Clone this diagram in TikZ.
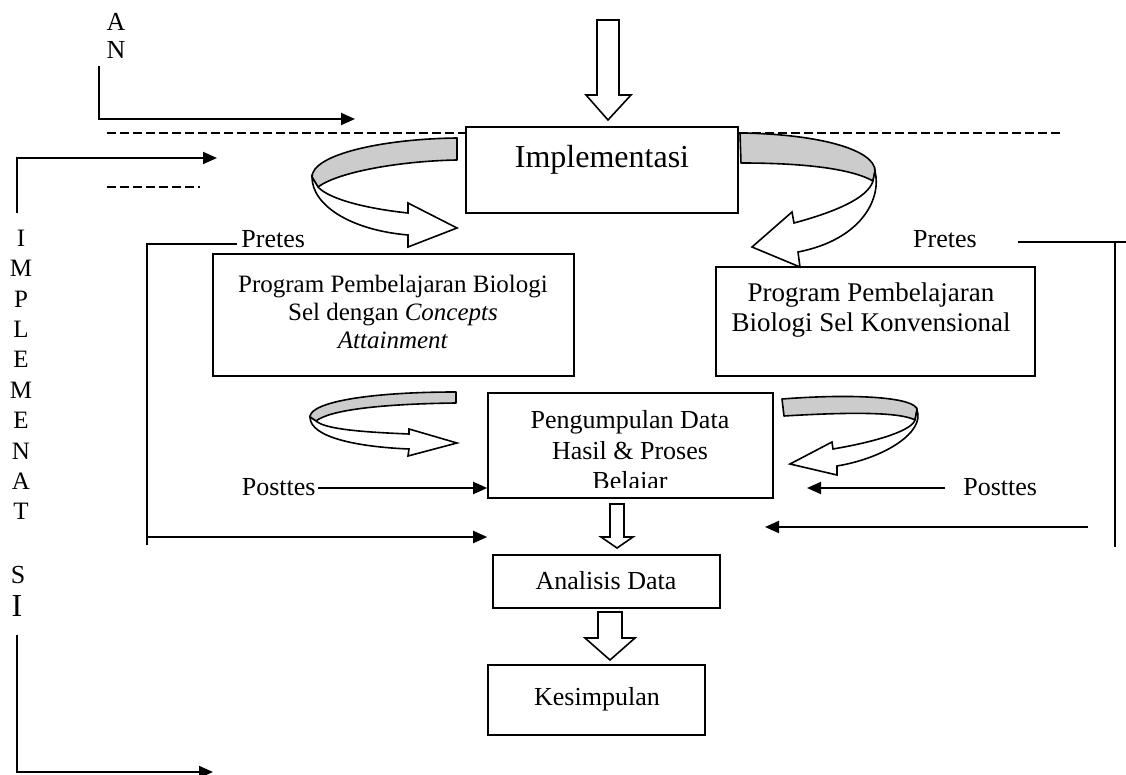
\documentclass[tikz,border=0pt]{standalone}
\usepackage{fontspec}
\setmainfont{Liberation Serif}
\usetikzlibrary{arrows.meta,fit}
\begin{document}
\begin{tikzpicture}[x=0.5pt,y=-0.5pt,
  box/.style={draw, line width=0.8pt, inner sep=0pt},
  txt/.style={font=\fontsize{13}{15}\selectfont, inner sep=0pt},
  conn/.style={line width=1pt, -{Triangle[length=7pt,width=6pt]}},
  plain/.style={line width=1pt},
  dashline/.style={line width=0.75pt, dash pattern=on 4.5pt off 2pt},
  blockarrow/.style={draw, fill=white, line width=0.8pt, line join=miter},
  ribbonback/.style={draw, fill=gray!40, line width=0.8pt, line join=round},
  ribbonfront/.style={draw, fill=white, line width=0.8pt, line join=miter}]
\useasboundingbox (0,0) rectangle (1126,775);

% boxes
\node[box, fit={(466,127) (738,213)}] (impl) {};
\node[font=\fontsize{16}{19}\selectfont, inner sep=0pt] (implT) at (602,160) {Implementasi};
\node[box, fit={(213,254) (574,376)}] (progA) {};
\node[font=\fontsize{12.5}{13.8}\selectfont, inner sep=0pt, align=center] (progAT) at (393,312) {Program Pembelajaran Biologi\\Sel dengan \textit{Concepts}\\\textit{Attainment}};
\node[box, fit={(716,267) (1035,376)}] (progB) {};
\node[font=\fontsize{13.5}{15}\selectfont, inner sep=0pt, align=center] (progBT) at (871,310) {Program Pembelajaran\\Biologi Sel Konvensional};
\node[box, fit={(488,393) (773,498)}] (kumpul) {};
\begin{scope}
\clip (488,393) rectangle (773,487.5);
\node[font=\fontsize{13}{15.2}\selectfont, inner sep=0pt, align=center] (kumpulT) at (630,453) {Pengumpulan Data\\Hasil \& Proses\\Belajar};
\end{scope}
\node[box, fit={(493,555) (720,608)}] (analisis) {};
\node[txt] (analisisT) at (606,581) {Analisis Data};
\node[box, fit={(488,665) (705,735)}] (kesimpulan) {};
\node[txt] (kesimpulanT) at (597,699) {Kesimpulan};

% left column texts
\node[txt] (lA) at (116,22) {A};
\node[txt] (lN) at (116,50) {N};
\node[font=\fontsize{12.5}{15.2}\selectfont, inner sep=0pt, align=center] (impv) at (21,375) {I\\M\\P\\L\\E\\M\\E\\N\\A\\T};
\node[txt] (lS) at (18,575) {S};
\node[font=\fontsize{16}{19}\selectfont, inner sep=0pt] (lI) at (17,606) {I};

% L-shaped arrows
\coordinate (a1s) at (99,66); \coordinate (a1c) at (99,119); \coordinate (a1e) at (355,119);
\draw[conn] (a1s) -- (a1c) -- (a1e);
\coordinate (a2s) at (17,213); \coordinate (a2c) at (17,158); \coordinate (a2e) at (217,158);
\draw[conn] (a2s) -- (a2c) -- (a2e);
\coordinate (a3s) at (17,635); \coordinate (a3c) at (17,772); \coordinate (a3e) at (213,772);
\draw[conn] (a3s) -- (a3c) -- (a3e);

% dashed lines
\coordinate (d1s) at (107,133); \coordinate (d2e) at (1062,133);
\draw[dashline] (d1s) -- (d1s -| impl.west);
\draw[dashline] (d1s -| impl.east) -- (d2e);
\coordinate (d3s) at (107,187); \coordinate (d3e) at (200,187);
\draw[dashline] (d3s) -- (d3e);

% Pretes left
\node[txt, anchor=west] (pretesL) at (241,239) {Pretes};
\coordinate (pl1) at (147,244); \coordinate (pl2) at (147,545);
\draw[plain] ([xshift=-2pt]pretesL.west |- pl1) -- (pl1) -- (pl2);
\coordinate (lbar) at (147,537);
\draw[conn] (lbar) -- (lbar -| kumpul.west);

% Pretes right
\node[txt] (pretesR) at (945,239) {Pretes};
\coordinate (pr1) at (1018,242); \coordinate (pr2) at (1126,242);
\coordinate (pr3) at (1115,242); \coordinate (pr4) at (1115,547);
\draw[plain] (pr1) -- (pr2);
\draw[plain] (pr3) -- (pr4);
\coordinate (rbar) at (1088,527); \coordinate (rbarE) at (765,527);
\draw[conn] (rbar) -- (rbarE);

% Posttes
\node[txt, anchor=east] (postL) at (316,487) {Posttes};
\draw[conn] ([xshift=1pt]postL.east |- 0,488) -- (kumpul.west |- 0,488);
\node[txt, anchor=west] (postR) at (963,487) {Posttes};
\coordinate (prE) at (807,488);
\draw[conn] ([xshift=-9pt]postR.west |- 0,488) -- (prE);

% block arrows
\path[blockarrow] (597,20) -- (619,20) -- (619,95) -- (631,95) -- (608,120) -- (586,95) -- (597,95) -- cycle;
\path[blockarrow] (610,504) -- (624,504) -- (624,537) -- (633,537) -- (617,548) -- (601,537) -- (610,537) -- cycle;
\path[blockarrow] (598,612) -- (622,612) -- (622,638) -- (635,638) -- (610,660) -- (585,638) -- (598,638) -- cycle;

% ribbon arrows: left top
\path[ribbonback] (457,138) .. controls (380,139) and (312,155) .. (312,177) -- (318,187) .. controls (338,172) and (400,161) .. (457,160) -- cycle;
\path[ribbonfront] (312,177) .. controls (312,205) and (350,230) .. (408,235) -- (408,247) -- (457,228) -- (408,203) -- (408,213) .. controls (370,209) and (330,200) .. (318,187) -- cycle;
% right top
\path[ribbonback] (740,133) .. controls (820,134) and (875,150) .. (875,171) -- (873,181) .. controls (850,168) and (800,163) .. (741,163) -- cycle;
\path[ribbonfront] (875,171) .. controls (882,200) and (860,240) .. (798,252) -- (800,267) -- (752,247) -- (792,212) -- (794,223) .. controls (835,212) and (868,198) .. (873,181) -- cycle;
% left mid
\path[ribbonback] (456,392) .. controls (370,392) and (310,402) .. (310,417) -- (316,421) .. controls (330,410) and (380,404) .. (456,403) -- cycle;
\path[ribbonfront] (310,417) .. controls (310,438) and (360,447) .. (409,449) -- (408,456) -- (457,443) -- (409,429) -- (409,434) .. controls (360,432) and (325,429) .. (316,421) -- cycle;
% right mid
\path[ribbonback] (782,399) .. controls (860,393) and (917,398) .. (917,410) -- (915,420) .. controls (900,412) and (850,412) .. (784,416) -- cycle;
\path[ribbonfront] (917,410) .. controls (925,432) and (885,458) .. (837,466) -- (837,475) -- (790,464) -- (832,442) -- (833,449) .. controls (880,441) and (912,430) .. (915,420) -- cycle;
\end{tikzpicture}
\end{document}
